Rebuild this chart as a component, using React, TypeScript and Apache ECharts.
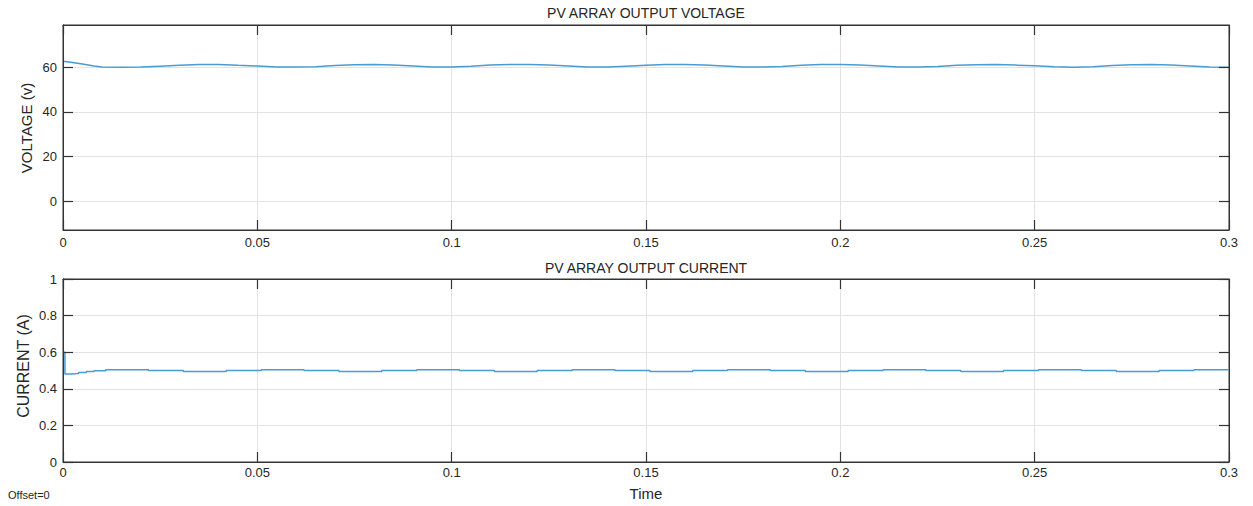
import React, { useEffect, useRef } from "react";
import * as echarts from "echarts";

// Voltage samples (time in s, voltage in V)
const voltageTime = [
  0, 0.0005, 0.002, 0.005, 0.008, 0.01, 0.015, 0.02, 0.025, 0.03, 0.035, 0.04,
  0.045, 0.05, 0.055, 0.06, 0.065, 0.07, 0.075, 0.08, 0.085, 0.09, 0.095, 0.1,
  0.105, 0.11, 0.115, 0.12, 0.125, 0.13, 0.135, 0.14, 0.145, 0.15, 0.155, 0.16,
  0.165, 0.17, 0.175, 0.18, 0.185, 0.19, 0.195, 0.2, 0.205, 0.21, 0.215, 0.22,
  0.225, 0.23, 0.235, 0.24, 0.245, 0.25, 0.255, 0.26, 0.265, 0.27, 0.275, 0.28,
  0.285, 0.29, 0.295, 0.3,
];
const voltageValues = [
  62.6, 62.6, 62.3, 61.5, 60.6, 60.2, 60.0, 60.1, 60.5, 60.9, 61.3, 61.3,
  60.9, 60.6, 60.2, 60.1, 60.3, 60.8, 61.2, 61.3, 61.0, 60.6, 60.2, 60.1,
  60.5, 61.0, 61.3, 61.3, 61.0, 60.6, 60.2, 60.1, 60.5, 60.9, 61.3, 61.3,
  61.0, 60.6, 60.2, 60.1, 60.4, 60.9, 61.3, 61.3, 61.0, 60.6, 60.2, 60.1,
  60.4, 60.9, 61.2, 61.3, 61.0, 60.7, 60.3, 60.0, 60.3, 60.8, 61.2, 61.3,
  61.0, 60.6, 60.2, 60.0,
];

// Current change points (step series)
const currentTime = [
  0, 0.0005, 0.002, 0.004, 0.006, 0.008, 0.011, 0.022, 0.031, 0.042, 0.051,
  0.062, 0.071, 0.082, 0.091, 0.102, 0.111, 0.122, 0.131, 0.142, 0.151, 0.162,
  0.171, 0.182, 0.191, 0.202, 0.211, 0.222, 0.231, 0.242, 0.251, 0.262, 0.271,
  0.282, 0.291, 0.3,
];
const currentValues = [
  0.6, 0.481, 0.484, 0.489, 0.494, 0.498, 0.504, 0.5, 0.495, 0.5, 0.504,
  0.5, 0.495, 0.5, 0.504, 0.5, 0.495, 0.5, 0.504, 0.5, 0.495, 0.5,
  0.504, 0.5, 0.495, 0.5, 0.504, 0.5, 0.495, 0.5, 0.504, 0.5, 0.495,
  0.5, 0.504, 0.504,
];

const voltageTicks = [0, 20, 40, 60];
const currentTicks = [0, 0.2, 0.4, 0.6, 0.8, 1];

const FONT = "'Liberation Sans', Arial, Helvetica, sans-serif";
const TXT = "#262626";
const LINE = "#4a9bd0";
const FRAME = "#333333";
const GRIDLINE = "#e3e3e3";

export default function App() {
  const ref = useRef<HTMLDivElement>(null);
  useEffect(() => {
    document.body.style.margin = "0";
    const chart = echarts.init(ref.current!, null, { renderer: "svg" });

    // kind: "main" (labels + ticks), "mirror" (ticks only), "split" (grid lines only)
    const xAxisOf = (gridIndex: number, kind: string) => ({
      type: "value",
      gridIndex,
      position: kind === "mirror" ? "top" : "bottom",
      min: 0,
      max: 0.3,
      interval: 0.05,
      z: kind === "split" ? 0 : 3,
      axisLine: { show: kind !== "split", onZero: false, lineStyle: { color: FRAME, width: 1 } },
      axisTick: { show: kind !== "split", inside: true, length: 10, lineStyle: { color: FRAME, width: 1.2 } },
      axisLabel: {
        show: kind === "main",
        color: TXT,
        fontFamily: FONT,
        fontSize: 13,
        margin: gridIndex === 0 ? 6 : 4,
      },
      splitLine: { show: kind === "split", lineStyle: { color: GRIDLINE, width: 1 } },
    });

    const yAxisOf = (gridIndex: number, kind: string, min: number, max: number, ticks: number[]) => ({
      type: "value",
      gridIndex,
      position: kind === "mirror" ? "right" : "left",
      min,
      max,
      z: kind === "split" ? 0 : 3,
      axisLine: { show: kind !== "split", onZero: false, lineStyle: { color: FRAME, width: 1 } },
      axisTick: {
        show: kind !== "split",
        inside: true,
        length: 10,
        customValues: ticks,
        lineStyle: { color: FRAME, width: 1.2 },
      },
      axisLabel: {
        show: kind === "main",
        customValues: ticks,
        color: TXT,
        fontFamily: FONT,
        fontSize: 13,
        margin: 6,
      },
      splitLine: { show: kind === "split", lineStyle: { color: GRIDLINE, width: 1 } },
    });

    chart.setOption({
      animation: false,
      backgroundColor: "#ffffff",
      grid: [
        { left: 63, right: 24, top: 25, height: 205, show: true, borderColor: FRAME, borderWidth: 1, backgroundColor: "transparent" },
        { left: 63, right: 24, top: 279, height: 183, show: true, borderColor: FRAME, borderWidth: 1, backgroundColor: "transparent" },
      ],
      xAxis: [
        xAxisOf(0, "main"), xAxisOf(0, "mirror"), xAxisOf(0, "split"),
        xAxisOf(1, "main"), xAxisOf(1, "mirror"), xAxisOf(1, "split"),
      ],
      yAxis: [
        yAxisOf(0, "main", -13, 79, voltageTicks),
        yAxisOf(0, "mirror", -13, 79, voltageTicks),
        yAxisOf(0, "split", -13, 79, voltageTicks),
        yAxisOf(1, "main", 0, 1, currentTicks),
        yAxisOf(1, "mirror", 0, 1, currentTicks),
        yAxisOf(1, "split", 0, 1, currentTicks),
      ],
      series: [
        {
          type: "line",
          xAxisIndex: 0,
          yAxisIndex: 0,
          z: 2,
          data: voltageTime.map((t, i) => [t, voltageValues[i]]),
          showSymbol: false,
          lineStyle: { color: LINE, width: 1.5 },
        },
        {
          type: "line",
          xAxisIndex: 3,
          yAxisIndex: 3,
          z: 2,
          step: "end",
          data: currentTime.map((t, i) => [t, currentValues[i]]),
          showSymbol: false,
          lineStyle: { color: LINE, width: 1.5 },
        },
      ],
      graphic: [
        { type: "text", x: 646, y: 13, style: { text: "PV ARRAY OUTPUT VOLTAGE", fill: TXT, font: `14px ${FONT}`, align: "center", verticalAlign: "middle" } },
        { type: "text", x: 646, y: 268, style: { text: "PV ARRAY OUTPUT CURRENT", fill: TXT, font: `14px ${FONT}`, align: "center", verticalAlign: "middle" } },
        { type: "text", x: 26, y: 128, rotation: Math.PI / 2, style: { text: "VOLTAGE (v)", fill: TXT, font: `15px ${FONT}`, align: "center", verticalAlign: "middle" } },
        { type: "text", x: 23, y: 366, rotation: Math.PI / 2, style: { text: "CURRENT (A)", fill: TXT, font: `16px ${FONT}`, align: "center", verticalAlign: "middle" } },
        { type: "text", x: 646, y: 493, style: { text: "Time", fill: TXT, font: `15px ${FONT}`, align: "center", verticalAlign: "middle" } },
        { type: "text", x: 8, y: 495, style: { text: "Offset=0", fill: TXT, font: `11px ${FONT}`, align: "left", verticalAlign: "middle" } },
      ],
    });
    return () => chart.dispose();
  }, []);
  return <div ref={ref} style={{ width: 1253, height: 506 }} />;
}
